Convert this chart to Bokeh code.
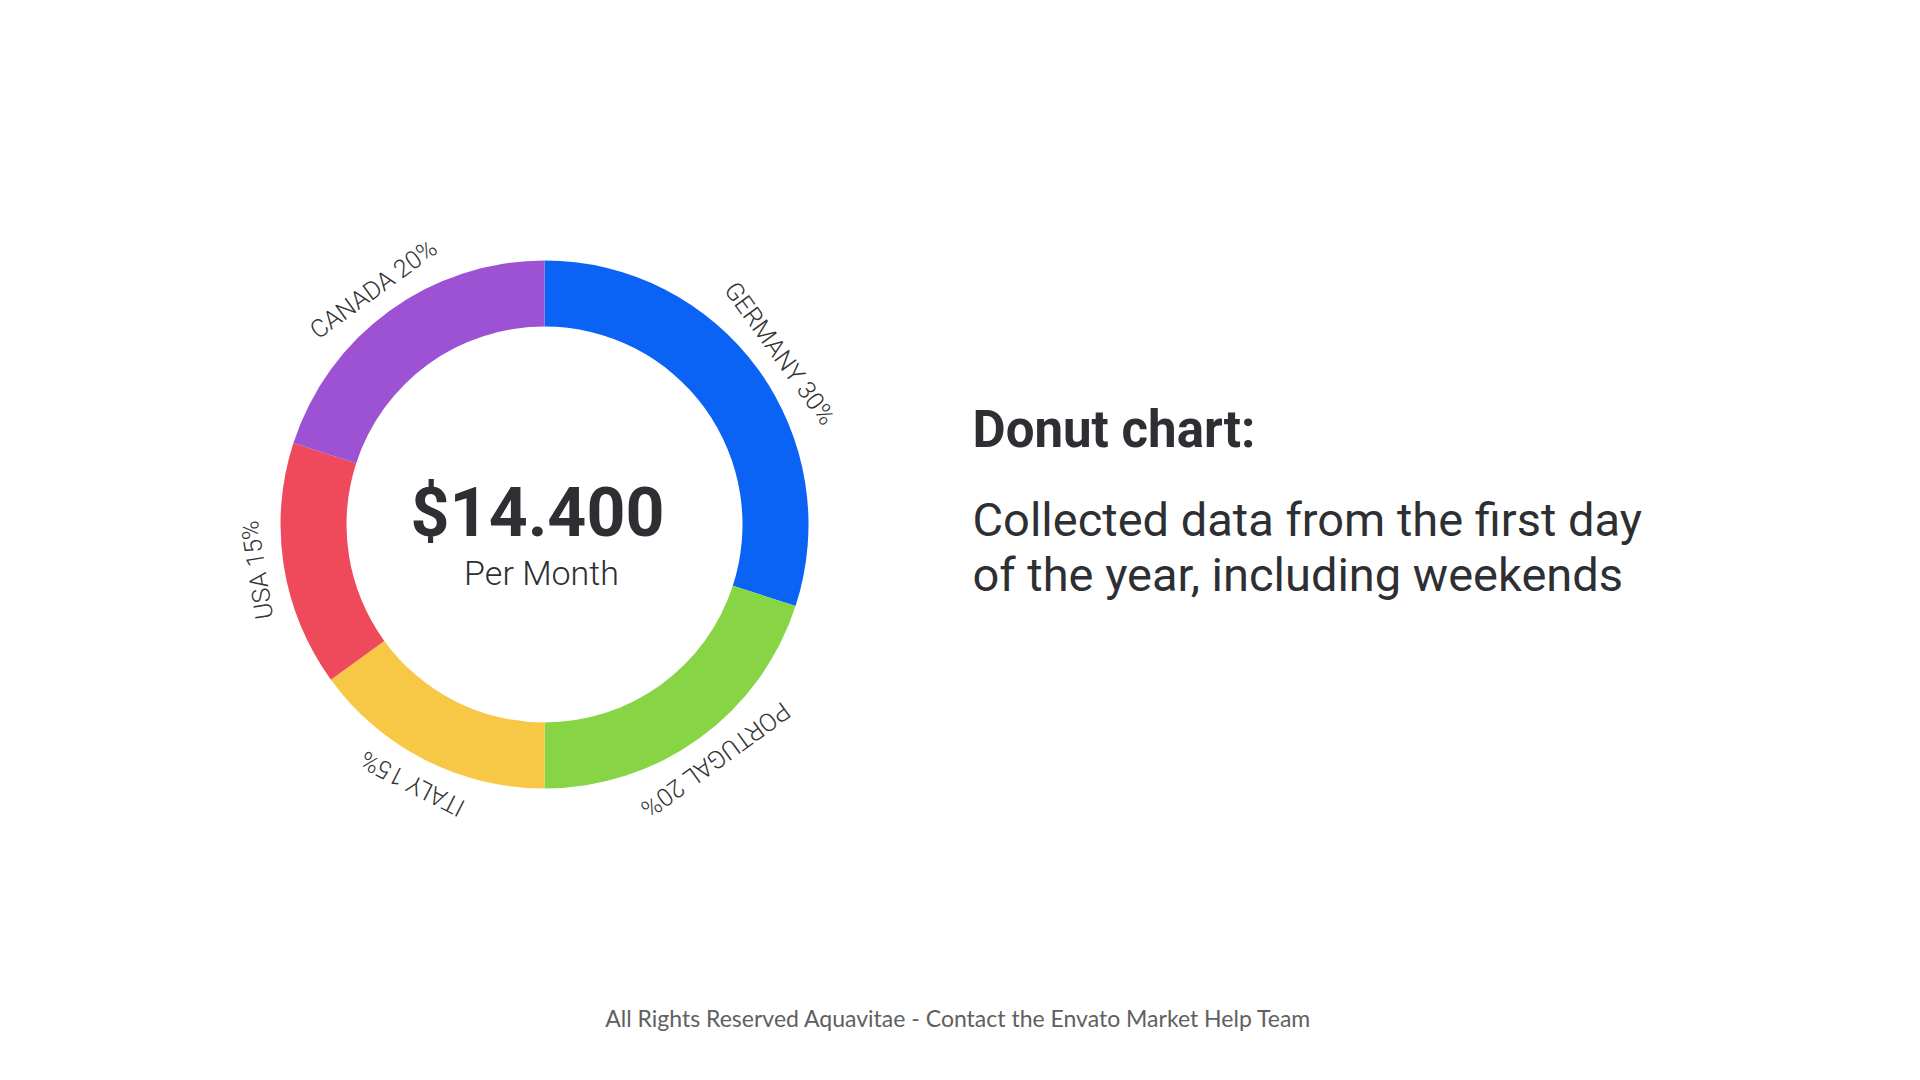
import math
from bokeh.plotting import figure
from bokeh.models import Range1d, ColumnDataSource
from bokeh.core.properties import value
from bokeh.embed import file_html
from bokeh.resources import INLINE

# ---- data ----
countries = ["Germany", "Portugal", "Italy", "USA", "Canada"]
shares = [30, 20, 15, 15, 20]
colors = ["#0B63F6", "#87D445", "#F7C846", "#EF4A5B", "#9C52D3"]
total_label = "$14.400"
period_label = "Per Month"
title_text = "Donut chart:"
desc_lines = ["Collected data from the first day", "of the year, including weekends"]
footer_text = "All Rights Reserved Aquavitae - Contact the Envato Market Help Team"

# ---- layout (pixels measured on the 1920x1080 reference) ----
W, H = 1904, 1064


def X(xr):
    return xr


def Y(yr):
    return H - yr


def mid_from_baseline(yb, fs, k=0.34):
    # vertical centre of the em box, from a baseline position
    return Y(yb - k * fs)


CX, CY = X(544), Y(524)
R_OUT, R_IN, R_LBL = 264, 198, 291
DARK = "#2d2f33"

p = figure(width=W, height=H, x_range=Range1d(0, W), y_range=Range1d(0, H),
           output_backend="svg", toolbar_location=None,
           x_axis_location=None, y_axis_location=None, min_border=0,
           outline_line_color=None, background_fill_color="white",
           border_fill_color="white")
p.grid.visible = False

total = float(sum(shares))
starts, ends, lx, ly, la, ltext = [], [], [], [], [], []
cum = 0.0
for name, s in zip(countries, shares):
    f0 = cum / total
    f1 = (cum + s) / total
    cum += s
    starts.append(math.pi / 2 - 2 * math.pi * f1)
    ends.append(math.pi / 2 - 2 * math.pi * f0)
    th = 2 * math.pi * (f0 + f1) / 2  # clockwise from top
    lx.append(CX + R_LBL * math.sin(th))
    ly.append(CY + R_LBL * math.cos(th))
    la.append(-th)
    ltext.append(f"{name.upper()} {s}%")

src = ColumnDataSource(dict(start=starts, end=ends, color=colors))
p.annular_wedge(x=CX, y=CY, inner_radius=R_IN, outer_radius=R_OUT,
                start_angle="start", end_angle="end", fill_color="color",
                line_color=None, source=src)

p.text(x=lx, y=ly, text=ltext, angle=la, text_font=value("Roboto Light"),
       text_font_size="25px", text_align="center", text_baseline="middle",
       text_color="#333333")

# centre texts
p.text(x=[X(537)], y=[mid_from_baseline(536, 68)], text=[total_label],
       text_font=value("Roboto"), text_font_style="bold", text_font_size="68px",
       text_align="center", text_baseline="middle", text_color=DARK)
p.text(x=[X(541)], y=[mid_from_baseline(584, 34)], text=[period_label],
       text_font=value("Roboto Light"), text_font_size="34px",
       text_align="center", text_baseline="middle", text_color=DARK)

# right-hand text
p.text(x=[X(972)], y=[mid_from_baseline(446, 51)], text=[title_text],
       text_font=value("Roboto"), text_font_style="bold", text_font_size="51px",
       text_align="left", text_baseline="middle", text_color=DARK)
p.text(x=[X(972)] * len(desc_lines),
       y=[mid_from_baseline(535, 47), mid_from_baseline(590, 47)],
       text=desc_lines, text_font=value("Roboto"), text_font_size="47px",
       text_align="left", text_baseline="middle", text_color=DARK)

# footer
p.text(x=[X(958)], y=[Y(1017)], text=[footer_text], text_font=value("Lato"),
       text_font_size="23px", text_align="center", text_baseline="middle",
       text_color="#606060")

open("out.html", "w").write(file_html(p, INLINE))
